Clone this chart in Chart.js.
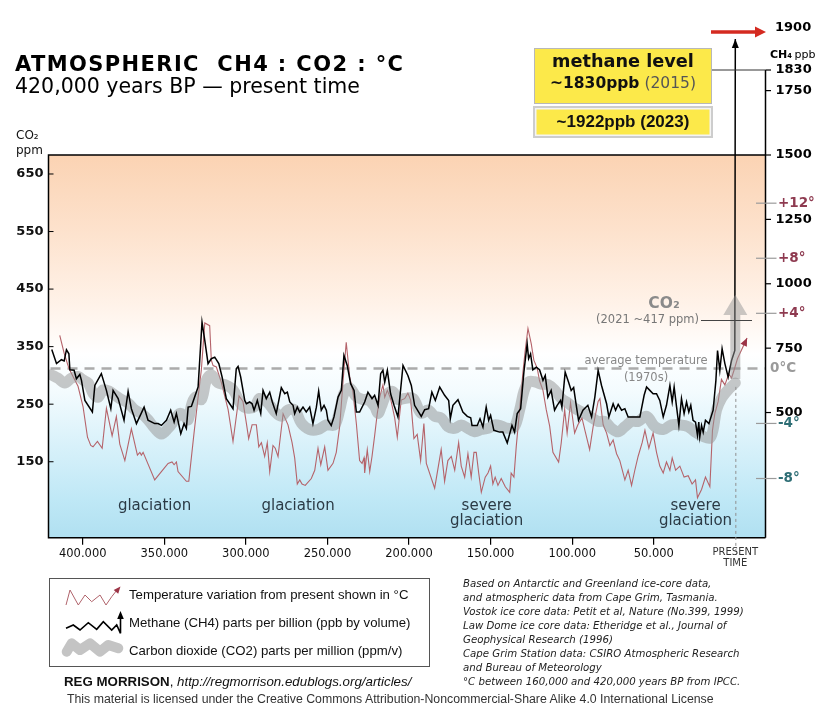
<!DOCTYPE html>
<html lang="en">
<head>
<meta charset="utf-8">
<title>Atmospheric CH4 : CO2 : °C</title>
<script src="https://cdn.jsdelivr.net/npm/chart.js@4.4.1/dist/chart.umd.min.js"></script>
<style>
  html, body { margin: 0; padding: 0; background: #fff; }
  #page { position: relative; width: 832px; height: 715px; overflow: hidden; font-family: "DejaVu Sans", Verdana, sans-serif; color: #111; }
  #myChart { position: absolute; left: 0; top: 0; }
  .t { position: absolute; white-space: nowrap; line-height: 1; }
  #title { left: 15px; top: 54px; font-size: 21px; font-weight: bold; letter-spacing: 1.4px; color: #000; }
  #subtitle { left: 15px; top: 76px; font-size: 20.5px; color: #000; }
  #co2unit { left: 16px; top: 128px; font-size: 12px; line-height: 15px; color: #111; }
  .box { position: absolute; box-sizing: border-box; text-align: center; }
  #box1 { left: 534px; top: 48px; width: 178px; height: 56px; background: #fce94a; border: 1px solid #b8b8b8; }
  #box2 { left: 533px; top: 106px; width: 180px; height: 32px; background: #fce94a; border: 2px solid #cdcdcd; box-shadow: inset 0 0 0 1.5px #f4f4f4; }
  #legend { position: absolute; left: 49px; top: 578px; width: 381px; height: 89px; box-sizing: border-box; border: 1px solid #555; }
  .leg { position: absolute; left: 129px; font-family: "Liberation Sans", Arial, sans-serif; font-size: 13.2px; color: #111; }
  #notes { position: absolute; left: 463px; top: 576.5px; font-size: 10.2px; line-height: 14.05px; font-style: italic; color: #222; white-space: nowrap; }
  #credit { left: 64px; top: 675px; font-family: "Liberation Sans", Arial, sans-serif; font-size: 13.3px; color: #111; }
  #licence { left: 67px; top: 692.5px; font-family: "Liberation Sans", Arial, sans-serif; font-size: 12.3px; color: #333; }
  #icons { position: absolute; left: 0; top: 0; }
</style>
</head>
<body>
<div id="page">
  <canvas id="myChart" width="832" height="715"></canvas>

  <div class="t" id="title">ATMOSPHERIC&nbsp; CH4 : CO2 : °C</div>
  <div class="t" id="subtitle">420,000 years BP — present time</div>
  <div class="t" id="co2unit">CO₂<br>ppm</div>

  <div class="box" id="box1">
    <div class="t" style="left:0;right:0;top:4px;font-size:17.7px;font-weight:bold">methane level</div>
    <div class="t" style="left:0;right:0;top:27px;font-size:15.5px"><b>~1830ppb</b> <span style="color:#555">(2015)</span></div>
  </div>
  <div class="box" id="box2">
    <div class="t" style="left:0;right:0;top:5px;font-family:'Liberation Sans',Arial,sans-serif;font-size:17px;font-weight:bold">~1922ppb (2023)</div>
  </div>

  <div id="legend"></div>
  <div class="t leg" style="top:588px">Temperature variation from present shown in °C</div>
  <div class="t leg" style="top:615.7px">Methane (CH4) parts per billion (ppb by volume)</div>
  <div class="t leg" style="top:644px">Carbon dioxide (CO2) parts per million (ppm/v)</div>

  <svg id="icons" width="832" height="715">
    <polyline points="66.7,651.7 71.7,643.3 80,650 90,643.3 100,651.7 108.3,645 118.3,648.3" fill="none" stroke="#c4c4c4" stroke-width="10" stroke-linecap="round" stroke-linejoin="round"/>
    <polyline points="66,605 70,590 78.3,605 85,595 91.7,601.7 100,595 106,605 111.7,596.7 117,590" fill="none" stroke="#b0636b" stroke-width="1"/>
    <polygon points="120.5,586.5 118.2,593.8 113.7,589.9" fill="#9c3446"/>
    <polyline points="66,628.3 73.3,625 80,630 88.3,622.7 96.7,629.3 103.3,621.7 111.7,630 116.7,625 120.5,633.3 120.5,617" fill="none" stroke="#000" stroke-width="1.6"/>
    <polygon points="120.5,611 117.2,619 123.8,619" fill="#000"/>
  </svg>

  <div id="notes">Based on Antarctic and Greenland ice-core data,<br>and atmospheric data from Cape Grim, Tasmania.<br>Vostok ice core data: Petit et al, Nature (No.399, 1999)<br>Law Dome ice core data: Etheridge et al., Journal of<br>Geophysical Research (1996)<br>Cape Grim Station data: CSIRO Atmospheric Research<br>and Bureau of Meteorology<br>°C between 160,000 and 420,000 years BP from IPCC.</div>
  <div class="t" id="credit"><b>REG MORRISON</b>, <i>http://regmorrison.edublogs.org/articles/</i></div>
  <div class="t" id="licence">This material is licensed under the Creative Commons Attribution-Noncommercial-Share Alike 4.0 International License</div>
</div>

<script>
// years are in thousands of years before present (BP)
const xTicks = [400, 350, 300, 250, 200, 150, 100, 50, 0];
const xTickLabels = ['400.000', '350.000', '300.000', '250.000', '200.000', '150.000', '100.000', '50.000', ['PRESENT', 'TIME']];
const co2Ticks = [150, 250, 350, 450, 550, 650];
const ch4Ticks = [500, 750, 1000, 1250, 1500, 1750, 1830];
const tempTicks = [-8, -4, 0, 4, 8, 12];
const tempTickLabels = ['-8°', '-4°', '0°C', '+4°', '+8°', '+12°'];

// methane, ppb
const ch4Years = [
  419, 416.1, 413.1, 411.4, 410, 408.5, 407.9, 405.3, 403.9, 401.8,
  400.8, 398.7, 394.1, 392.6, 388.6, 385.5, 382.8, 381.4, 378.3, 374.7,
  372.2, 370.2, 367.1, 362.4, 360, 355.9, 353.8, 351.8, 348.7, 346.1,
  344, 342.6, 339.9, 337.9, 336.5, 335.4, 333.4, 329.3, 326.9, 325.2,
  323.2, 321.2, 319.1, 316.6, 314.6, 312, 307.9, 305.9, 304.8, 303.2,
  300.7, 299.7, 297.7, 296.2, 295, 293, 290.9, 289.5, 287.5, 285.4,
  283.8, 281.4, 278.3, 276.2, 274.6, 273.1, 271.1, 270.1, 268.5, 267,
  265, 263, 260.9, 258.9, 256.8, 255.4, 253.8, 252.1, 250.7, 249.7,
  247.7, 246, 243.5, 241.5, 239.9, 237.9, 235.8, 233.7, 232.3, 230.3,
  227.2, 225.2, 222.7, 221.1, 219, 217.4, 216, 214.9, 213.3, 211.3,
  209.2, 206.8, 203.7, 200.7, 198.6, 196.6, 192.5, 190.4, 188, 186,
  183.9, 181.2, 178.2, 175.7, 174.7, 173.1, 170, 167, 164.3, 162.2,
  161.4, 158.2, 156.5, 154.7, 152.7, 151.2, 150, 148, 144.5, 142.5,
  139.8, 136.9, 135.3, 133.7, 131.6, 129.6, 127.6, 126.7, 125.5, 124.1,
  122, 120, 117.9, 116.5, 114.9, 112.9, 110.8, 109.2, 107.1, 106.3,
  104.3, 102.2, 100.6, 99.1, 97.5, 96.1, 93.4, 90.4, 88.1, 86.1,
  84.1, 82, 78.9, 77.5, 74.9, 73.4, 71.8, 69.7, 67.7, 65.7,
  61.6, 58.5, 55.9, 54.4, 52.4, 50.4, 48.3, 46.3, 44.2, 42.2,
  40.1, 38.7, 37.5, 36, 34.6, 33, 31.4, 29.9, 28.5, 27.3,
  25.9, 24.4, 23.2, 22.4, 21.8, 20.7, 19.7, 18.3, 16.2, 13.6,
  11.9, 10.9, 9.5, 8.1, 6.4, 4.4, 2.3, 0.3, 0
];
const ch4Values = [
  745, 690, 705, 700, 744, 728, 666, 664, 631, 648,
  625, 547, 502, 605, 651, 586, 515, 586, 554, 470,
  582, 515, 457, 521, 470, 457, 457, 450, 470, 509,
  463, 496, 418, 457, 438, 521, 524, 599, 851, 780,
  690, 709, 715, 690, 638, 554, 515, 670, 679, 638,
  547, 534, 541, 534, 509, 547, 496, 586, 554, 579,
  541, 496, 597, 573, 579, 541, 528, 496, 521, 502,
  521, 502, 521, 457, 521, 583, 509, 528, 509, 470,
  450, 483, 560, 586, 722, 683, 612, 586, 502, 502,
  541, 579, 554, 567, 528, 651, 664, 618, 664, 573,
  528, 483, 683, 644, 605, 528, 485, 511, 515, 579,
  547, 599, 567, 547, 476, 528, 550, 502, 485, 480,
  450, 450, 476, 444, 521, 470, 489, 431, 424, 424,
  382, 450, 424, 496, 515, 657, 767, 709, 728, 666,
  676, 666, 625, 644, 560, 586, 509, 528, 547, 521,
  657, 618, 586, 597, 528, 470, 509, 528, 483, 560,
  664, 605, 534, 483, 534, 509, 532, 509, 515, 483,
  483, 483, 567, 599, 586, 573, 573, 547, 483, 528,
  605, 541, 599, 521, 450, 554, 496, 541, 502, 528,
  470, 463, 412, 463, 405, 450, 424, 470, 457, 509,
  625, 741, 664, 748, 690, 638, 702, 741, 1950
];

// temperature difference from present, °C
const tempYears = [
  414.1, 411.4, 408.5, 405.9, 402.9, 399.8, 397.1, 395.1, 393.7, 391,
  388.1, 385.5, 382, 379.4, 377.3, 374.2, 370.2, 366.5, 365, 364.1,
  363, 355.9, 351.8, 347.7, 345.3, 344, 342.6, 341.6, 336.5, 335,
  331.8, 329.3, 327.3, 325.2, 322.2, 321.2, 320.1, 318.1, 315.1, 310.9,
  307.9, 304.2, 301.8, 299.7, 298.3, 296.2, 293.6, 292.1, 290.5, 288.5,
  286.9, 285.4, 283.4, 282, 280.3, 277.2, 274.2, 271.7, 270.1, 268.5,
  267, 265.6, 263.6, 259.9, 257.8, 255.8, 254.1, 251.7, 249.7, 246.6,
  244.6, 242.5, 240.5, 238.5, 236.4, 234.4, 232.3, 230.3, 228.8, 227.6,
  227.2, 225.6, 224.1, 222.7, 221.1, 219.5, 218, 216, 214.9, 213.3,
  211.3, 208.8, 207.2, 204.8, 202.7, 200.7, 199, 197, 195, 192.9,
  190.9, 189.4, 184.3, 180.3, 178.2, 176.2, 174.1, 172, 169.6, 168,
  165.9, 163.9, 161.9, 160.2, 158.8, 157.3, 155.7, 153.3, 151.6, 150,
  148.6, 147.2, 145.5, 143.5, 141, 138.3, 137.4, 135.7, 134.3, 132.2,
  130.2, 128.8, 127.1, 125.1, 123.5, 121.4, 120, 117.9, 115.9, 113.8,
  111.8, 108.3, 106.7, 104.6, 103.1, 101, 98.5, 96.5, 94, 92,
  89.3, 87.1, 84.1, 83, 81, 78.9, 76.9, 74.9, 72.8, 70.8,
  67.7, 65.7, 63.6, 61.6, 59.6, 57.1, 55.4, 53, 50.4, 48.3,
  46.3, 44.2, 42.2, 40.1, 38.7, 36.6, 34, 31.4, 28.9, 26.5,
  24.4, 23.2, 20.7, 18.3, 15.6, 14, 12.6, 10.5, 8.5, 6.4,
  4, 2.3, 0.7, -1.3, -7.2
];
const tempValues = [
  2.4, 1.1, 0, -0.6, -1.3, -2.8, -5.0, -5.6, -5.7, -5.3,
  -5.8, -2.9, -4.9, -3.5, -5.5, -6.7, -4.4, -6.3, -6.1, -6.3,
  -6.1, -8.1, -7.5, -6.9, -6.8, -7.0, -6.8, -7.5, -8.2, -8.2,
  -4.7, -2.1, -0.1, 3.3, 3.1, 0.6, 0.2, 0.1, -1.0, -3.0,
  -5.3, -2.0, -2.4, -4.0, -5.1, -4.1, -4.1, -5.7, -5.4, -6.4,
  -5.4, -7.5, -5.6, -5.8, -6.4, -3.3, -4.1, -5.4, -6.5, -8.4,
  -8.1, -8.4, -8.5, -8.0, -7.4, -5.8, -7.0, -5.7, -7.4, -6.9,
  -6.1, -4.2, -1.0, 1.9, -0.6, -1.7, -4.0, -6.7, -6.9, -6.5,
  -7.6, -5.9, -7.5, -6.4, -4.9, -3.3, -2.1, -1.2, -2.1, -1.6,
  -2.2, -3.6, -5.0, -2.3, -2.2, -1.8, -2.3, -5.1, -4.8, -6.7,
  -4.0, -6.9, -8.7, -5.9, -8.2, -6.7, -6.4, -7.4, -5.4, -7.1,
  -7.9, -6.2, -7.9, -6.1, -6.1, -7.6, -9.0, -7.9, -7.6, -7.1,
  -8.4, -7.9, -8.5, -8.0, -8.6, -9.0, -7.6, -7.9, -5.7, -3.0,
  -0.3, 1.3, 2.9, 1.8, 0.6, 0, -0.9, -1.6, -3.0, -4.2,
  -6.1, -6.8, -5.4, -3.0, -4.7, -2.5, -4.7, -4.1, -3.6, -4.6,
  -5.9, -4.2, -2.4, -2.2, -4.1, -4.7, -5.6, -5.2, -6.2, -6.7,
  -8.1, -7.4, -8.5, -7.4, -6.4, -5.4, -4.5, -5.8, -4.7, -6.1,
  -7.1, -7.6, -6.8, -7.4, -6.5, -7.4, -7.1, -7.9, -7.8, -8.4,
  -8.1, -9.4, -8.8, -7.9, -8.6, -4.5, -3.3, -2.4, -0.8, -1.2,
  -0.4, -0.7, -0.1, 0.7, 2.2
];

// carbon dioxide, ppm
const co2Years = [
  419.2, 415.1, 411, 407, 402.9, 399.8, 396.7, 393.7, 390.6, 387.5,
  383.4, 380.4, 376.3, 372.2, 368.1, 364.1, 360, 355.9, 351.8, 347.7,
  343.6, 340.5, 337.5, 335.4, 333, 330.4, 327.3, 324.2, 321.2, 317.1,
  313, 307.9, 302.8, 298.7, 294.6, 291.5, 286.4, 282.3, 278.3, 274.2,
  270.1, 266, 260.9, 255.8, 250.7, 245.6, 242.5, 239.9, 236.4, 232.3,
  228.2, 225.2, 221.1, 219, 217, 214, 209.9, 206.8, 202.7, 197.6,
  192.5, 188.4, 184.3, 180.3, 176.2, 172, 168, 163.9, 159.8, 155.7,
  151.6, 147.5, 143.5, 139.4, 135.3, 132.2, 129.6, 126.7, 123, 119,
  114.9, 110.8, 106.7, 102.6, 98.5, 94.5, 89.3, 84.1, 80, 75.9,
  71.8, 67.7, 63.6, 59.6, 54.4, 49.3, 44.2, 39.1, 34, 28.9,
  24.8, 19.7, 15.6, 13.6, 11.5, 8.5, 4.4, 0
];
const co2Values = [
  301, 295, 287, 295, 298, 292, 287, 269, 262, 275,
  272, 266, 258, 252, 240, 234, 223, 208, 198, 208,
  223, 234, 229, 223, 252, 263, 258, 292, 301, 287,
  284, 275, 249, 243, 246, 260, 252, 237, 229, 240,
  240, 217, 206, 206, 214, 214, 240, 269, 278, 263,
  258, 258, 246, 234, 246, 266, 272, 258, 260, 260,
  234, 240, 229, 226, 211, 208, 214, 208, 202, 206,
  208, 214, 212, 208, 211, 240, 272, 289, 289, 285,
  284, 275, 260, 252, 243, 237, 229, 220, 220, 208,
  202, 211, 220, 220, 229, 211, 206, 214, 214, 211,
  202, 194, 191, 206, 240, 260, 275, 287
];
// modern CO2 arrow: shaft ends at co2ArrowBase, head tip at co2ArrowTip (ppm)
const co2ArrowBase = 405;
const co2ArrowTip = 440;

const FONT = '"DejaVu Sans", Verdana, sans-serif';

function toPoints(xs, ys) {
  return xs.map((x, i) => ({ x: x, y: ys[i] }));
}

// small filled arrow head at (tx,ty) pointing away from (fx,fy)
function arrowHead(ctx, fx, fy, tx, ty, len, half, color) {
  const ang = Math.atan2(ty - fy, tx - fx);
  ctx.save();
  ctx.fillStyle = color;
  ctx.beginPath();
  ctx.moveTo(tx, ty);
  ctx.lineTo(tx - len * Math.cos(ang) + half * Math.sin(ang), ty - len * Math.sin(ang) - half * Math.cos(ang));
  ctx.lineTo(tx - len * Math.cos(ang) - half * Math.sin(ang), ty - len * Math.sin(ang) + half * Math.cos(ang));
  ctx.closePath();
  ctx.fill();
  ctx.restore();
}

function text(ctx, str, x, y, font, color, align) {
  ctx.font = font;
  ctx.fillStyle = color;
  ctx.textAlign = align || 'left';
  ctx.fillText(str, x, y);
}

const chartDecor = {
  id: 'chartDecor',
  beforeDatasetsDraw(chart) {
    const { ctx, chartArea: a, scales } = chart;
    ctx.save();
    // warm at the top, icy at the bottom
    const grad = ctx.createLinearGradient(0, a.top, 0, a.bottom);
    grad.addColorStop(0, '#fbd3b3');
    grad.addColorStop(0.2, '#fde2cd');
    grad.addColorStop(0.4, '#fff3ea');
    grad.addColorStop(0.52, '#ffffff');
    grad.addColorStop(0.62, '#f3fbfe');
    grad.addColorStop(0.76, '#d8f1fa');
    grad.addColorStop(0.9, '#bfe8f6');
    grad.addColorStop(1, '#b0e0f1');
    ctx.fillStyle = grad;
    ctx.fillRect(a.left, a.top, a.right - a.left, a.bottom - a.top);

    // average temperature (1970s) = 0 °C
    const y0 = scales.yT.getPixelForValue(0);
    ctx.strokeStyle = '#ababab';
    ctx.lineWidth = 2.5;
    ctx.setLineDash([10, 7]);
    ctx.beginPath();
    ctx.moveTo(a.left + 2, y0);
    ctx.lineTo(a.right, y0);
    ctx.stroke();
    ctx.restore();
  },
  afterDatasetsDraw(chart) {
    const { ctx, scales } = chart;
    const x = scales.x, yCO2 = scales.yCO2;

    // grey CO2 arrow going up at present time
    const cx = x.getPixelForValue(co2Years[co2Years.length - 1]);
    const yStart = yCO2.getPixelForValue(co2Values[co2Values.length - 1]) - 4;
    const yBase = yCO2.getPixelForValue(co2ArrowBase);
    const yTip = yCO2.getPixelForValue(co2ArrowTip);
    ctx.save();
    ctx.fillStyle = 'rgba(150,150,150,0.5)';
    ctx.beginPath();
    ctx.moveTo(cx - 5, yStart);
    ctx.lineTo(cx - 5, yBase);
    ctx.lineTo(cx - 12, yBase);
    ctx.lineTo(cx, yTip);
    ctx.lineTo(cx + 12, yBase);
    ctx.lineTo(cx + 5, yBase);
    ctx.lineTo(cx + 5, yStart);
    ctx.closePath();
    ctx.fill();
    ctx.restore();

    // arrow heads on temperature and methane lines
    const tMeta = chart.getDatasetMeta(0).data;
    const tA = tMeta[tMeta.length - 2], tB = tMeta[tMeta.length - 1];
    arrowHead(ctx, tA.x, tA.y, tB.x, tB.y, 8, 3.5, '#9c3446');
    const mMeta = chart.getDatasetMeta(2).data;
    const mA = mMeta[mMeta.length - 2], mB = mMeta[mMeta.length - 1];
    arrowHead(ctx, mA.x, mA.y, mB.x, mB.y, 9, 3.5, '#000');
  },
  afterDraw(chart) {
    const { ctx, chartArea: a, scales } = chart;
    const x = scales.x, yCO2 = scales.yCO2, yCH4 = scales.yCH4, yT = scales.yT;
    ctx.save();

    // frame
    ctx.strokeStyle = '#000';
    ctx.lineWidth = 1.5;
    ctx.beginPath();
    ctx.moveTo(a.right, a.top);
    ctx.lineTo(a.left, a.top);
    ctx.lineTo(a.left, a.bottom);
    ctx.lineTo(a.right, a.bottom);
    ctx.stroke();
    // methane axis, runs above the plot up to 1830
    ctx.beginPath();
    ctx.moveTo(a.right, yCH4.getPixelForValue(1830));
    ctx.lineTo(a.right, a.bottom);
    ctx.stroke();

    // CO2 ticks point inward
    ctx.lineWidth = 1;
    co2Ticks.forEach(v => {
      const y = yCO2.getPixelForValue(v);
      ctx.beginPath();
      ctx.moveTo(a.left, y);
      ctx.lineTo(a.left + 5, y);
      ctx.stroke();
    });

    // methane ticks and labels
    ctx.textBaseline = 'middle';
    ch4Ticks.forEach(v => {
      const y = yCH4.getPixelForValue(v);
      ctx.strokeStyle = '#000';
      ctx.lineWidth = 1.2;
      ctx.beginPath();
      ctx.moveTo(a.right, y);
      ctx.lineTo(a.right + 5.5, y);
      ctx.stroke();
      text(ctx, String(v), a.right + 10, y, 'bold 13px ' + FONT, '#000');
    });
    // line from the methane box to 1830
    const y1830 = yCH4.getPixelForValue(1830);
    ctx.strokeStyle = '#333';
    ctx.lineWidth = 1;
    ctx.beginPath();
    ctx.moveTo(712, y1830);
    ctx.lineTo(a.right, y1830);
    ctx.stroke();

    // temperature ticks and labels
    tempTicks.forEach((v, i) => {
      const y = yT.getPixelForValue(v);
      let color = '#9a9a9a';
      let lx = a.right + 4.5;
      if (v !== 0) {
        color = v > 0 ? '#8e3a50' : '#2e6e75';
        lx = a.right + 12.5;
        ctx.strokeStyle = '#9b9b9b';
        ctx.lineWidth = 1.2;
        ctx.beginPath();
        ctx.moveTo(a.right - 9.5, y);
        ctx.lineTo(a.right + 11, y);
        ctx.stroke();
      }
      text(ctx, tempTickLabels[i], lx, y, 'bold 13.5px ' + FONT, color);
    });

    // top right labels
    ctx.textBaseline = 'alphabetic';
    text(ctx, 'CH₄', a.right + 4.5, 58, 'bold 11px ' + FONT, '#000');
    text(ctx, 'ppb', a.right + 29, 58, '11px ' + FONT, '#000');
    ctx.textBaseline = 'middle';
    text(ctx, '1900', a.right + 9.5, 28, 'bold 13px ' + FONT, '#000');
    ctx.strokeStyle = '#d42a20';
    ctx.lineWidth = 3.5;
    ctx.beginPath();
    ctx.moveTo(711, 32);
    ctx.lineTo(757, 32);
    ctx.stroke();
    arrowHead(ctx, 740, 32, 766, 32, 11, 5.5, '#d42a20');

    // present time marker
    const px = x.getPixelForValue(0);
    ctx.strokeStyle = '#8e8e8e';
    ctx.lineWidth = 1;
    ctx.setLineDash([3, 3]);
    ctx.beginPath();
    ctx.moveTo(px + 0.5, yCO2.getPixelForValue(co2Values[co2Values.length - 1]) + 4);
    ctx.lineTo(px + 0.5, 551);
    ctx.stroke();
    ctx.setLineDash([]);

    // CO2 note
    text(ctx, 'CO₂', 664, 304, 'bold 15.5px ' + FONT, '#8a8a8a', 'center');
    text(ctx, '(2021 ~417 ppm)', 699, 320, '11.5px ' + FONT, '#777', 'right');
    ctx.strokeStyle = '#444';
    ctx.lineWidth = 1;
    ctx.beginPath();
    ctx.moveTo(701, 320.5);
    ctx.lineTo(752, 320.5);
    ctx.stroke();

    text(ctx, 'average temperature', 646, 361, '11.5px ' + FONT, '#888', 'center');
    text(ctx, '(1970s)', 646, 378, '11.5px ' + FONT, '#888', 'center');

    // glaciation labels, centred on their periods
    ctx.textBaseline = 'alphabetic';
    const gFont = '15px ' + FONT, gCol = '#2b3a45';
    text(ctx, 'glaciation', x.getPixelForValue(356), 509.5, gFont, gCol, 'center');
    text(ctx, 'glaciation', x.getPixelForValue(268), 510, gFont, gCol, 'center');
    text(ctx, 'severe', x.getPixelForValue(152.4), 510, gFont, gCol, 'center');
    text(ctx, 'glaciation', x.getPixelForValue(152.4), 525, gFont, gCol, 'center');
    text(ctx, 'severe', x.getPixelForValue(24.4), 510, gFont, gCol, 'center');
    text(ctx, 'glaciation', x.getPixelForValue(24.4), 525, gFont, gCol, 'center');

    ctx.restore();
  }
};

const chartCanvas = document.getElementById('myChart').getContext('2d');

const myChart = new Chart(chartCanvas, {
  type: 'line',
  data: {
    datasets: [
      {
        label: 'Temperature',
        data: toPoints(tempYears, tempValues),
        yAxisID: 'yT',
        borderColor: '#b5636a',
        borderWidth: 1.1,
        pointRadius: 0,
        tension: 0,
        order: 3
      },
      {
        label: 'CO2',
        data: toPoints(co2Years, co2Values),
        yAxisID: 'yCO2',
        borderColor: 'rgba(150,150,150,0.52)',
        borderWidth: 11,
        borderCapStyle: 'round',
        borderJoinStyle: 'round',
        pointRadius: 0,
        tension: 0.35,
        order: 2
      },
      {
        label: 'CH4',
        data: toPoints(ch4Years, ch4Values),
        yAxisID: 'yCH4',
        borderColor: '#000',
        borderWidth: 1.5,
        pointRadius: 0,
        tension: 0,
        clip: false,
        order: 1
      }
    ]
  },
  options: {
    responsive: false,
    animation: false,
    events: [],
    layout: { padding: { left: 0, right: 66.5, top: 155, bottom: 137.3 } },
    plugins: { legend: { display: false }, tooltip: { enabled: false } },
    scales: {
      x: {
        type: 'linear',
        reverse: true,
        min: -18.5,
        max: 421,
        afterBuildTicks: s => { s.ticks = xTicks.map(v => ({ value: v })); },
        afterFit: s => { s.height = 40; },
        border: { display: false },
        grid: {
          drawOnChartArea: false,
          drawTicks: true,
          tickLength: 7,
          lineWidth: 1.2,
          color: ctx => (ctx.tick && ctx.tick.value === 0) ? 'rgba(0,0,0,0)' : '#000'
        },
        ticks: {
          autoSkip: false,
          maxRotation: 0,
          padding: 2,
          color: ctx => (ctx.tick && ctx.tick.value === 0) ? '#333' : '#111',
          font: ctx => (ctx.tick && ctx.tick.value === 0)
            ? { family: FONT, size: 10, lineHeight: 1.1 }
            : { family: FONT, size: 11.5, lineHeight: 1.2 },
          callback: (v, i) => xTickLabels[i]
        }
      },
      yCO2: {
        position: 'left',
        min: 18,
        max: 683,
        afterBuildTicks: s => { s.ticks = co2Ticks.map(v => ({ value: v })); },
        afterFit: s => { s.width = 48.5; },
        border: { display: false },
        grid: { display: false, drawTicks: false },
        ticks: { padding: 5, color: '#111', font: { family: FONT, size: 13, weight: 'bold' } }
      },
      yCH4: { display: false, min: 14, max: 1500 },
      yT: { display: false, min: -12.3, max: 15.5 }
    }
  },
  plugins: [chartDecor]
});
</script>
</body>
</html>
